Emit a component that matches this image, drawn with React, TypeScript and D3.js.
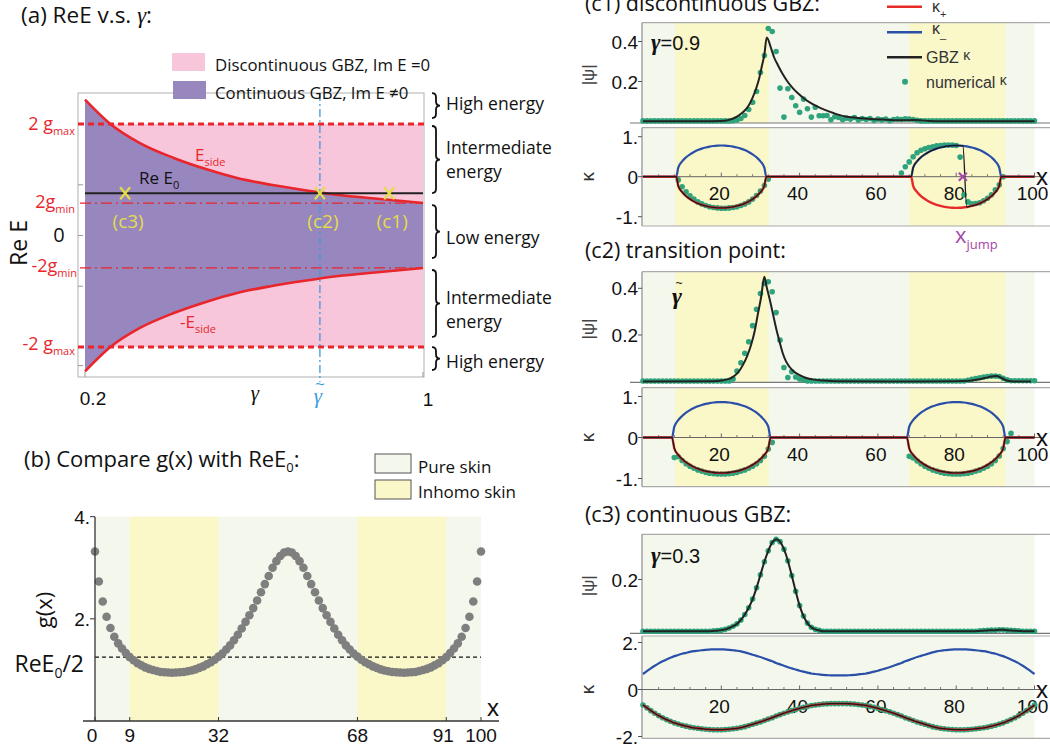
import React from "react";
import * as d3 from "d3";

const SANS = "'Open Sans', 'Noto Sans', sans-serif";
const ARIAL = "'Liberation Sans', Arial, sans-serif";
const SERIF = "'Liberation Serif', 'DejaVu Serif', serif";

// ---------------- (a) data ----------------
const gammaA = [0.2, 0.26, 0.33, 0.41, 0.49, 0.56, 0.64, 0.72, 0.8, 0.88, 0.95, 1.0];
const eSideA = [8.04, 6.6, 5.47, 4.59, 3.9, 3.4, 3.0, 2.68, 2.4, 2.2, 2.04, 1.92];
const twoGMax = 6.6;
const twoGMin = 1.92;
const reE0 = 2.5;
const gammaTilde = 0.756;
const markerGammas = [0.295, 0.756, 0.92];
const markerLabels = ["(c3)", "(c2)", "(c1)"];
const braceBands = [[8.43, 6.95], [6.48, 2.51], [1.8, -1.33], [-2.04, -6.0], [-6.6, -7.96]];
const braceLabels = [["High energy"], ["Intermediate", "energy"], ["Low energy"], ["Intermediate", "energy"], ["High energy"]];
const braceLabelE = [7.81, 4.47, -0.12, -4.38, -7.49];

// ---------------- (b) data ----------------
const xB = d3.range(0, 101);
const gB = [3.32, 2.73, 2.34, 2.04, 1.82, 1.65, 1.52, 1.42, 1.33, 1.25, 1.19, 1.13, 1.09, 1.05, 1.02, 1.0, 0.98, 0.96, 0.955, 0.95,
  0.945, 0.95, 0.955, 0.96, 0.975, 0.99, 1.01, 1.04, 1.07, 1.11, 1.15, 1.2, 1.26, 1.32, 1.4, 1.48, 1.58, 1.69, 1.81, 1.94,
  2.07, 2.21, 2.36, 2.52, 2.68, 2.84, 3.0, 3.13, 3.23, 3.3, 3.32, 3.3, 3.23, 3.13, 3.0, 2.84, 2.68, 2.52, 2.36, 2.21,
  2.07, 1.94, 1.81, 1.69, 1.58, 1.48, 1.4, 1.32, 1.26, 1.2, 1.15, 1.11, 1.07, 1.04, 1.01, 0.99, 0.975, 0.96, 0.955, 0.95,
  0.945, 0.95, 0.955, 0.96, 0.98, 1.0, 1.02, 1.05, 1.09, 1.13, 1.19, 1.25, 1.33, 1.42, 1.52, 1.65, 1.82, 2.04, 2.34, 2.73, 3.32];
const xTicksB = [0, 9, 32, 68, 91, 100];
const inhomoB = [[9, 32], [68, 91]];

// ---------------- (c) data ----------------
const xC = d3.range(0, 101);
const inhomoC = [[8.25, 32.1], [68, 92.5]];
const xTicksC = [20, 40, 60, 80, 100];

// c1
const c1PsiGbzX = [0, 15, 19.9, 22, 23.3, 24.6, 25.8, 27, 27.97, 28.9, 29.7, 30.4, 31.0, 31.6, 32.7, 33.5, 34.4, 35.6, 36.9, 38.2, 39.5, 41.2, 42.9, 44.6, 46.3, 48.8, 51.4, 54.8, 58.2, 62, 66.7, 69, 70.7, 73, 75.2, 100];
const c1PsiGbz = [0.001, 0.001, 0.002, 0.008, 0.0175, 0.032, 0.051, 0.08, 0.118, 0.165, 0.218, 0.28, 0.334, 0.42, 0.367, 0.32, 0.284, 0.24, 0.2, 0.168, 0.142, 0.114, 0.092, 0.074, 0.059, 0.041, 0.026, 0.018, 0.0125, 0.009, 0.006, 0.007, 0.006, 0.003, 0.001, 0.001];
const c1PsiNum = [0.003, 0.003, 0.003, 0.003, 0.003, 0.003, 0.003, 0.003, 0.003, 0.003, 0.003, 0.003, 0.003, 0.003, 0.003, 0.003, 0.003, 0.003, 0.003, 0.003, 0.003, 0.003, 0.003,
  0.004, 0.008, 0.015, 0.03, 0.06, 0.096, 0.15, 0.245, 0.33, 0.465, 0.45, 0.35, 0.167, 0.022, 0.164, 0.12, 0.079, 0.046, 0.112, 0.064, 0.022, 0.071, 0.029, 0.029, 0.03, 0.009, 0.024, 0.02, 0.009, 0.017, 0.012, 0.02, 0.008, 0.015, 0.01, 0.015, 0.005, 0.012, 0.008, 0.012, 0.004, 0.01, 0.012, 0.01, 0.013, 0.012, 0.01, 0.006,
  0.003, 0.003, 0.003, 0.003, 0.003, 0.003, 0.003, 0.003, 0.003, 0.003, 0.003, 0.003, 0.003, 0.003, 0.003, 0.003, 0.003, 0.003, 0.003, 0.003, 0.003, 0.003, 0.003, 0.003, 0.003, 0.003, 0.003, 0.003, 0.003, 0.003];
const c1KX = [0, 8.5, 9, 10, 11, 12, 13, 14, 15, 16, 17, 18, 19, 20, 21, 22, 23, 24, 25, 26, 27, 28, 29, 30, 31, 31.5,
  68.5, 69, 70, 71, 72, 73, 74, 75, 76, 77, 78, 79, 80, 81, 81.7, 82.7, 83, 84, 85, 86, 87, 88, 89, 90, 91, 91.5, 100];
const c1KMinus = [0, 0, 0.228, 0.385, 0.486, 0.56, 0.619, 0.665, 0.702, 0.731, 0.753, 0.768, 0.777, 0.78, 0.777, 0.768, 0.753, 0.731, 0.702, 0.665, 0.619, 0.56, 0.486, 0.385, 0.228, 0,
  0, 0.228, 0.385, 0.486, 0.56, 0.619, 0.665, 0.702, 0.731, 0.753, 0.768, 0.777, 0.78, 0.777, 0.771, 0.758, 0.753, 0.731, 0.702, 0.665, 0.619, 0.56, 0.486, 0.385, 0.228, 0, 0];
const c1XJump = 81.7;
const c1KNumX = [9, 10, 11, 12, 13, 14, 15, 16, 17, 18, 19, 20, 21, 22, 23, 24, 25, 26, 27, 28, 29, 30, 31, 32,
  66, 67, 68, 69, 70, 71, 72, 73, 74, 75, 76, 77, 78, 79, 80, 81, 82, 83, 84, 85, 86, 87, 88, 89, 90, 91, 92];
const c1KNum = [-0.08, -0.25, -0.38, -0.48, -0.56, -0.63, -0.68, -0.72, -0.75, -0.77, -0.78, -0.79, -0.79, -0.78, -0.77, -0.75, -0.72, -0.68, -0.63, -0.56, -0.47, -0.36, -0.22, -0.06,
  0.09, 0.25, 0.37, 0.5, 0.6, 0.66, 0.7, 0.73, 0.75, 0.77, 0.78, 0.79, 0.79, 0.79, 0.78, 0.49, -0.45, -0.63, -0.68, -0.67, -0.65, -0.6, -0.54, -0.45, -0.33, -0.2, 0.0];

// c2
const c2PsiGbzX = [0, 18, 20, 21.5, 23, 24.3, 25.5, 26.6, 27.6, 28.5, 29.3, 30.2, 31, 31.6, 32.3, 33.2, 34, 34.9, 35.7, 36.5, 37.4, 38.6, 39.9, 41.5, 43.3, 46, 49.3, 70, 80, 83.4, 85.5, 87.6, 89, 90.2, 91.5, 92.7, 94, 95.3, 99.1];
const c2PsiGbz = [0.001, 0.002, 0.005, 0.01, 0.021, 0.04, 0.071, 0.11, 0.157, 0.215, 0.286, 0.365, 0.45, 0.405, 0.357, 0.29, 0.229, 0.17, 0.122, 0.088, 0.064, 0.043, 0.029, 0.017, 0.01, 0.005, 0.002, 0.001, 0.002, 0.004, 0.009, 0.017, 0.022, 0.024, 0.017, 0.006, 0.002, 0.001, 0.001];
const c2PsiNum = [0.003, 0.003, 0.003, 0.003, 0.003, 0.003, 0.003, 0.003, 0.003, 0.003, 0.003, 0.003, 0.003, 0.003, 0.003, 0.003, 0.003, 0.003, 0.003, 0.003, 0.003, 0.003, 0.003,
  0.012, 0.046, 0.081, 0.122, 0.171, 0.24, 0.31, 0.378, 0.421, 0.428, 0.385, 0.296, 0.178, 0.061, 0.018, 0.043, 0.02, 0.012, 0.008,
  0.003, 0.003, 0.003, 0.003, 0.003, 0.003, 0.003, 0.003, 0.003, 0.003, 0.003, 0.003, 0.003, 0.003, 0.003, 0.003, 0.003, 0.003, 0.003, 0.003, 0.003, 0.003, 0.003, 0.003, 0.003, 0.003, 0.003, 0.003, 0.003, 0.003, 0.003, 0.003, 0.003, 0.003, 0.003, 0.003, 0.003, 0.003, 0.003, 0.003, 0.003,
  0.006, 0.01, 0.013, 0.017, 0.02, 0.022, 0.024, 0.024, 0.022, 0.015, 0.008,
  0.004, 0.004, 0.004, 0.004, 0.004, 0.004, 0.004];
const c2KX = [0, 7.4, 8, 9, 10, 11, 12, 13, 14, 15, 16, 17, 18, 19, 20, 21, 22, 23, 24, 25, 26, 27, 28, 29, 30, 31, 32, 32.6,
  67.4, 68, 69, 70, 71, 72, 73, 74, 75, 76, 77, 78, 79, 80, 81, 82, 83, 84, 85, 86, 87, 88, 89, 90, 91, 92, 92.6, 100];
const c2KMinus = [0, 0, 0.264, 0.422, 0.526, 0.605, 0.668, 0.719, 0.761, 0.794, 0.821, 0.84, 0.854, 0.862, 0.865, 0.862, 0.854, 0.84, 0.821, 0.794, 0.761, 0.719, 0.668, 0.605, 0.526, 0.422, 0.264, 0,
  0, 0.264, 0.422, 0.526, 0.605, 0.668, 0.719, 0.761, 0.794, 0.821, 0.84, 0.854, 0.862, 0.865, 0.862, 0.854, 0.84, 0.821, 0.794, 0.761, 0.719, 0.668, 0.605, 0.526, 0.422, 0.264, 0, 0];
const c2KNumX = [8, 9, 10, 11, 12, 13, 14, 15, 16, 17, 18, 19, 20, 21, 22, 23, 24, 25, 26, 27, 28, 29, 30, 31, 32, 33,
  68, 69, 70, 71, 72, 73, 74, 75, 76, 77, 78, 79, 80, 81, 82, 83, 84, 85, 86, 87, 88, 89, 90, 91, 92, 93, 94];
const c2KNum = [-0.49, -0.47, -0.56, -0.64, -0.7, -0.75, -0.79, -0.82, -0.85, -0.87, -0.88, -0.89, -0.89, -0.89, -0.88, -0.87, -0.85, -0.82, -0.79, -0.75, -0.7, -0.64, -0.56, -0.46, -0.28, -0.12,
  -0.46, -0.5, -0.57, -0.64, -0.7, -0.75, -0.79, -0.82, -0.85, -0.87, -0.88, -0.89, -0.89, -0.89, -0.88, -0.87, -0.85, -0.82, -0.79, -0.75, -0.7, -0.64, -0.56, -0.45, -0.27, -0.1, 0.1];

// c3
const c3Psi = [0.002, 0.002, 0.002, 0.002, 0.002, 0.002, 0.002, 0.002, 0.002, 0.002, 0.002, 0.002, 0.002, 0.002, 0.002, 0.002, 0.002, 0.002,
  0.003, 0.004, 0.006, 0.009, 0.014, 0.021, 0.03, 0.045, 0.066, 0.092, 0.125, 0.168, 0.218, 0.268, 0.31, 0.342, 0.354, 0.345, 0.316, 0.272, 0.215, 0.155, 0.1, 0.06, 0.033, 0.017, 0.009, 0.005,
  0.002, 0.002, 0.002, 0.002, 0.002, 0.002, 0.002, 0.002, 0.002, 0.002, 0.002, 0.002, 0.002, 0.002, 0.002, 0.002, 0.002, 0.002, 0.002, 0.002, 0.002, 0.002, 0.002, 0.002, 0.002, 0.002, 0.002, 0.002, 0.002, 0.002, 0.002, 0.002, 0.002, 0.002, 0.002, 0.002, 0.002, 0.002, 0.002, 0.002,
  0.003, 0.004, 0.005, 0.006, 0.006, 0.007, 0.007, 0.006, 0.005, 0.004, 0.003,
  0.002, 0.002, 0.002, 0.002];
const c3Kappa = [-0.66, -0.78, -0.9, -1.01, -1.11, -1.2, -1.28, -1.35, -1.42, -1.47, -1.52, -1.56, -1.6, -1.63, -1.65, -1.67, -1.69, -1.7, -1.71, -1.71,
  -1.71, -1.7, -1.69, -1.67, -1.65, -1.62, -1.58, -1.53, -1.48, -1.43, -1.38, -1.32, -1.26, -1.2, -1.13, -1.07, -1.01, -0.95, -0.9, -0.85,
  -0.8, -0.76, -0.72, -0.68, -0.66, -0.64, -0.62, -0.61, -0.6, -0.6, -0.6, -0.6, -0.6, -0.61, -0.62, -0.64, -0.66, -0.68, -0.72, -0.76,
  -0.8, -0.85, -0.9, -0.95, -1.01, -1.07, -1.13, -1.2, -1.26, -1.32, -1.38, -1.43, -1.48, -1.53, -1.58, -1.62, -1.65, -1.67, -1.69, -1.7,
  -1.71, -1.71, -1.71, -1.7, -1.69, -1.67, -1.65, -1.63, -1.6, -1.56, -1.52, -1.47, -1.42, -1.35, -1.28, -1.2, -1.11, -1.01, -0.9, -0.78, -0.66];

// colors
const PINK = "#F7C6DA";
const PURPLE = "#9886BF";
const RED = "#E8262B";
const YEL = "#E4DC4A";
const BLUE_V = "#3D9CD8";
const GREEN_BG = "#F4F8EC";
const YELLOW_BG = "#FAF7C9";
const DOT = "#2FA37C";
const KRED = "#E62A2A";
const KBLUE = "#2A4FA8";

function bracePath(x: number, y1: number, y2: number, w: number) {
  const m = (y1 + y2) / 2;
  const r = Math.min(w, (y2 - y1) / 4);
  return `M${x},${y1} Q${x + w},${y1} ${x + w},${y1 + r} L${x + w},${m - r} Q${x + w},${m} ${x + 2 * w},${m} Q${x + w},${m} ${x + w},${m + r} L${x + w},${y2 - r} Q${x + w},${y2} ${x},${y2}`;
}

function PanelA() {
  const xA = d3.scaleLinear().domain([0.2, 1]).range([85, 423]);
  const yA = d3.scaleLinear().domain([-1, 1]).range([235.5 + 16.9, 235.5 - 16.9]);
  const area = d3.area<number>().x((_, i) => xA(gammaA[i])).y0((d) => yA(-d)).y1((d) => yA(d)).curve(d3.curveMonotoneX);
  const up = d3.line<number>().x((_, i) => xA(gammaA[i])).y((d) => yA(d)).curve(d3.curveMonotoneX);
  const dn = d3.line<number>().x((_, i) => xA(gammaA[i])).y((d) => yA(-d)).curve(d3.curveMonotoneX);
  const x0 = xA(0.2), x1 = xA(1);
  const red = RED;
  return (
    <g>
      <text x={21} y={22.5} fontFamily={SANS} fontSize={22.5} fill="#111">(a) ReE v.s. <tspan fontFamily={SERIF} fontStyle="italic">γ</tspan>:</text>
      <rect x={78} y={93} width={346} height={284} fill="none" stroke="#b0b0b0" strokeWidth={1} />
      <rect x={172} y={53} width={33} height={18} fill={PINK} />
      <rect x={173} y={81} width={33} height={18} fill={PURPLE} />
      <rect x={x0} y={yA(twoGMax)} width={x1 - x0} height={yA(-twoGMax) - yA(twoGMax)} fill={PINK} />
      <path d={area(eSideA) || ""} fill={PURPLE} />
      <path d={up(eSideA) || ""} fill="none" stroke={red} strokeWidth={2.6} />
      <path d={dn(eSideA) || ""} fill="none" stroke={red} strokeWidth={2.6} />
      {[twoGMax, -twoGMax].map((v, i) => (
        <line key={"gm" + i} x1={78} x2={425} y1={yA(v)} y2={yA(v)} stroke={red} strokeWidth={3} strokeDasharray="6,4" />
      ))}
      {[twoGMin, -twoGMin].map((v, i) => (
        <line key={"gn" + i} x1={80} x2={423} y1={yA(v)} y2={yA(v)} stroke={red} strokeWidth={1.2} strokeDasharray="11,4,2,4" />
      ))}
      <line x1={x0} x2={x1} y1={yA(reE0)} y2={yA(reE0)} stroke="#222" strokeWidth={2.2} />
      <line x1={xA(gammaTilde)} x2={xA(gammaTilde)} y1={93} y2={382} stroke={BLUE_V} strokeWidth={1.3} strokeDasharray="8,3,2,3" />
      {[3, 0, -3, -7.7].map((v, i) => (
        <line key={"lt" + i} x1={78} x2={83} y1={yA(v)} y2={yA(v)} stroke="#999" />
      ))}
      {[0.2, 1].map((v, i) => (
        <line key={"bt" + i} x1={xA(v)} x2={xA(v)} y1={377} y2={372} stroke="#999" />
      ))}
      {markerGammas.map((g, i) => {
        const cx = xA(g), cy = yA(reE0);
        return (
          <g key={"mk" + i}>
            <line x1={cx - 5} x2={cx + 5} y1={cy - 6} y2={cy + 6} stroke={YEL} strokeWidth={2.2} />
            <line x1={cx - 5} x2={cx + 5} y1={cy + 6} y2={cy - 6} stroke={YEL} strokeWidth={2.2} />
            <text x={cx + 3} y={228} textAnchor="middle" fontFamily={SANS} fontSize={19} fill={YEL}>{markerLabels[i]}</text>
          </g>
        );
      })}
      <text x={195} y={161} fontFamily={SANS} fontSize={17} fill={red}>E<tspan fontSize={11} dy={5}>side</tspan></text>
      <text x={139} y={184} fontFamily={SANS} fontSize={17} fill="#111">Re E<tspan fontSize={11} dy={5}>0</tspan></text>
      <text x={180} y={328} fontFamily={SANS} fontSize={17} fill={red}>-E<tspan fontSize={11} dy={5}>side</tspan></text>
      <text x={75} y={130} textAnchor="end" fontFamily={SANS} fontSize={18} fill={red}>2 g<tspan fontSize={11} dy={5}>max</tspan></text>
      <text x={75} y={208} textAnchor="end" fontFamily={SANS} fontSize={18} fill={red}>2g<tspan fontSize={11} dy={5}>min</tspan></text>
      <text x={59} y={242} textAnchor="middle" fontFamily={SANS} fontSize={20} fill="#111">0</text>
      <text x={77} y={272} textAnchor="end" fontFamily={SANS} fontSize={18} fill={red}>-2g<tspan fontSize={11} dy={5}>min</tspan></text>
      <text x={75} y={350} textAnchor="end" fontFamily={SANS} fontSize={18} fill={red}>-2 g<tspan fontSize={11} dy={5}>max</tspan></text>
      <text transform="translate(27,243) rotate(-90)" textAnchor="middle" fontFamily={SANS} fontSize={23} fill="#111">Re E</text>
      <text x={93} y={405} textAnchor="middle" fontFamily={ARIAL} fontSize={19} fill="#111">0.2</text>
      <text x={255} y={400} textAnchor="middle" fontFamily={SERIF} fontStyle="italic" fontSize={21} fill="#111">γ</text>
      <text x={318} y={403} textAnchor="middle" fontFamily={SERIF} fontStyle="italic" fontSize={21} fill={BLUE_V}>γ</text>
      <text x={320} y={390} textAnchor="middle" fontFamily={ARIAL} fontSize={16} fill={BLUE_V}>~</text>
      <text x={428} y={406} textAnchor="middle" fontFamily={ARIAL} fontSize={19} fill="#111">1</text>
      <text x={215} y={71} fontFamily={SANS} fontSize={16.8} fill="#111">Discontinuous GBZ, Im E =0</text>
      <text x={215} y={99} fontFamily={SANS} fontSize={16.8} fill="#111">Continuous GBZ, Im E ≠0</text>
      {braceBands.map((b, i) => {
        const y1 = yA(b[0]), y2 = yA(b[1]);
        const yc = yA(braceLabelE[i]);
        const lines = braceLabels[i];
        return (
          <g key={"br" + i}>
            <path d={bracePath(432, y1, y2, 4)} fill="none" stroke="#111" strokeWidth={1.8} />
            {lines.map((t, j) => (
              <text key={j} x={446} y={yc + (j - (lines.length - 1) / 2) * 24 + 6} fontFamily={SANS} fontSize={17.5} fill="#111">{t}</text>
            ))}
          </g>
        );
      })}
    </g>
  );
}

function PanelB() {
  const x = d3.scaleLinear().domain([0, 100]).range([95, 481]);
  const y = d3.scaleLinear().domain([0, 4]).range([721, 516.7]);
  return (
    <g>
      <text x={24} y={467} fontFamily={SANS} fontSize={22} fill="#111">(b) Compare g(x) with ReE<tspan fontSize={13} dy={5}>0</tspan><tspan dy={-5}>:</tspan></text>
      <rect x={375} y={454} width={36} height={19} fill={GREEN_BG} stroke="#555" strokeWidth={1} />
      <rect x={375} y={480} width={36} height={19} fill={YELLOW_BG} stroke="#555" strokeWidth={1} />
      <text x={418} y={472.5} fontFamily={SANS} fontSize={17} fill="#111">Pure skin</text>
      <text x={418} y={498} fontFamily={SANS} fontSize={17} fill="#111">Inhomo skin</text>
      <rect x={x(0)} y={y(4)} width={x(100) - x(0)} height={y(0) - y(4)} fill={GREEN_BG} />
      {inhomoB.map((r, i) => (
        <rect key={i} x={x(r[0])} y={y(4)} width={x(r[1]) - x(r[0])} height={y(0) - y(4)} fill={YELLOW_BG} />
      ))}
      <line x1={x(0)} x2={x(100)} y1={y(reE0 / 2)} y2={y(reE0 / 2)} stroke="#111" strokeWidth={1.2} strokeDasharray="4,3" />
      {xB.map((xx, i) => (
        <circle key={i} cx={x(xx)} cy={y(gB[i])} r={4.3} fill="#7f7f7f" />
      ))}
      <line x1={95} x2={95} y1={y(4)} y2={y(0)} stroke="#333" strokeWidth={1.3} />
      <line x1={83} x2={499} y1={y(0)} y2={y(0)} stroke="#333" strokeWidth={1.3} />
      {[4, 2].map((v) => (
        <g key={"yt" + v}>
          <line x1={90} x2={95} y1={y(v)} y2={y(v)} stroke="#333" />
          <text x={90} y={y(v) + 7} textAnchor="end" fontFamily={ARIAL} fontSize={19} fill="#111">{v + "."}</text>
        </g>
      ))}
      <text x={84} y={672} textAnchor="end" fontFamily={SANS} fontSize={23} fill="#111">ReE<tspan fontSize={14} dy={6}>0</tspan><tspan dy={-6}>/2</tspan></text>
      <text transform="translate(52,610) rotate(-90)" textAnchor="middle" fontFamily={SANS} fontSize={22} fill="#111">g(x)</text>
      {xTicksB.map((t) => (
        <g key={"xt" + t}>
          <line x1={x(t)} x2={x(t)} y1={y(0)} y2={y(0) - 4} stroke="#333" />
          <text x={x(t) - (t === 0 ? 3 : t === 91 ? 3 : 0)} y={742} textAnchor="middle" fontFamily={ARIAL} fontSize={19} fill="#111">{t}</text>
        </g>
      ))}
      <text x={487} y={716} fontFamily={ARIAL} fontSize={24} fill="#111">x</text>
    </g>
  );
}

type CCfg = {
  title: string; titleY: number;
  psiTop: number; psiBot: number; psiZero: number; psiScale: number; psiTicks: number[];
  kTop: number; kBot: number; kZero: number; kScale: number; kTicks: number[]; kTickLabels: string[];
  yellow: boolean;
  gamma: string; gammaY: number;
  psiCurveX: number[]; psiCurve: number[]; psiNum: number[];
  kX: number[]; kMinus: number[]; mode: string; kNumX: number[]; kNum: number[];
};

function PanelC({ cfg }: { cfg: CCfg }) {
  const x = d3.scaleLinear().domain([0, 100]).range([643, 1034.5]);
  const yP = d3.scaleLinear().domain([0, 1]).range([cfg.psiZero, cfg.psiZero - cfg.psiScale]);
  const yK = d3.scaleLinear().domain([0, 1]).range([cfg.kZero, cfg.kZero - cfg.kScale]);
  const L = 642;
  const psiLine = d3.line<number>().x((_, i) => x(cfg.psiCurveX[i])).y((d) => yP(d)).curve(d3.curveMonotoneX);
  const kLine = d3.line<number>().x((_, i) => x(cfg.kX[i])).y((d) => yK(d)).curve(d3.curveMonotoneX);
  const blue = cfg.kMinus;
  const red = cfg.kMinus.map((v) => -v);
  let black: number[] = red;
  if (cfg.mode === "jump") {
    black = cfg.kMinus.map((v, i) => (cfg.kX[i] >= 68 && cfg.kX[i] <= c1XJump ? v : -v));
  }
  const bgs = (top: number, bot: number, key: string) => (
    <g key={key}>
      <rect x={x(0)} y={top} width={x(100) - x(0)} height={bot - top} fill={GREEN_BG} />
      {cfg.yellow && inhomoC.map((r, i) => (
        <rect key={i} x={x(r[0])} y={top} width={x(r[1]) - x(r[0])} height={bot - top} fill={YELLOW_BG} />
      ))}
    </g>
  );
  const minor = d3.range(4, 100, 4);
  return (
    <g>
      <text x={585} y={cfg.titleY} fontFamily={SANS} fontSize={21.5} fill="#111">{cfg.title}</text>
      {bgs(cfg.psiTop, cfg.psiBot, "bp")}
      {bgs(cfg.kTop, cfg.kBot, "bk")}
      <line x1={L} x2={1050} y1={cfg.psiTop} y2={cfg.psiTop} stroke="#aaa" strokeWidth={1.2} />
      <line x1={630} x2={1050} y1={cfg.psiBot} y2={cfg.psiBot} stroke="#777" strokeWidth={1.2} />
      <line x1={L} x2={L} y1={cfg.psiTop} y2={cfg.psiBot} stroke="#888" strokeWidth={1.2} />
      {cfg.psiTicks.map((t) => (
        <g key={"pt" + t}>
          <line x1={L - 4} x2={L} y1={yP(t)} y2={yP(t)} stroke="#555" />
          <text x={638} y={yP(t) + 7} textAnchor="end" fontFamily={ARIAL} fontSize={19} fill="#111">{t}</text>
        </g>
      ))}
      <text transform={`translate(594,${(cfg.psiTop + cfg.psiBot) / 2 + 2}) rotate(-90)`} textAnchor="middle" fontFamily={ARIAL} fontSize={17} fill="#444">|ψ|</text>
      {cfg.psiNum.map((v, i) => (
        <circle key={"pn" + i} cx={x(xC[i])} cy={yP(v)} r={2.8} fill={DOT} />
      ))}
      <path d={psiLine(cfg.psiCurve) || ""} fill="none" stroke="#222" strokeWidth={2} />
      {cfg.gamma === "tilde" ? (
        <g>
          <text x={677} y={cfg.gammaY} textAnchor="middle" fontFamily={SERIF} fontStyle="italic" fontSize={24} fontWeight="bold" fill="#111">γ</text>
          <text x={679} y={cfg.gammaY - 17} textAnchor="middle" fontFamily={ARIAL} fontSize={12} fill="#111">~</text>
        </g>
      ) : (
        <text x={651} y={cfg.gammaY} fontFamily={ARIAL} fontSize={20} fill="#111"><tspan fontFamily={SERIF} fontStyle="italic" fontWeight="bold" fontSize={23}>γ</tspan>={cfg.gamma}</text>
      )}
      <line x1={L} x2={1050} y1={cfg.kTop} y2={cfg.kTop} stroke="#aaa" strokeWidth={1.2} />
      <line x1={L} x2={1050} y1={cfg.kBot} y2={cfg.kBot} stroke="#aaa" strokeWidth={1.2} />
      <line x1={L} x2={L} y1={cfg.kTop} y2={cfg.kBot} stroke="#888" strokeWidth={1.2} />
      {cfg.kTicks.map((t, i) => (
        <g key={"kt" + i}>
          <line x1={L - 4} x2={L} y1={yK(t)} y2={yK(t)} stroke="#555" />
          <text x={638} y={yK(t) + 7} textAnchor="end" fontFamily={ARIAL} fontSize={19} fill="#111">{cfg.kTickLabels[i]}</text>
        </g>
      ))}
      <text transform={`translate(594,${cfg.kZero}) rotate(-90)`} textAnchor="middle" fontFamily={ARIAL} fontSize={19} fill="#333">κ</text>
      <line x1={L} x2={1040} y1={yK(0)} y2={yK(0)} stroke="#666" strokeWidth={1} />
      {xTicksC.map((t) => (
        <g key={"xt" + t}>
          <line x1={x(t)} x2={x(t)} y1={yK(0)} y2={yK(0) - 4} stroke="#666" />
          <text x={x(t) - 2} y={yK(0) + 23} textAnchor="middle" fontFamily={ARIAL} fontSize={19} fill="#111">{t}</text>
        </g>
      ))}
      {minor.filter((m) => m % 20 !== 0).map((m) => (
        <line key={"mn" + m} x1={x(m)} x2={x(m)} y1={yK(0)} y2={yK(0) - 2.5} stroke="#777" />
      ))}
      <text x={1036} y={yK(0) + 8} fontFamily={ARIAL} fontSize={24} fill="#111">x</text>
      {cfg.kNum.map((v, i) => (
        <circle key={"kn" + i} cx={x(cfg.kNumX[i])} cy={yK(v)} r={2.8} fill={DOT} />
      ))}
      <path d={kLine(blue) || ""} fill="none" stroke={KBLUE} strokeWidth={2.2} />
      <path d={kLine(red) || ""} fill="none" stroke={KRED} strokeWidth={2.4} />
      <path d={kLine(black) || ""} fill="none" stroke="#1a1a1a" strokeWidth={1.3} />
    </g>
  );
}

const c1Cfg: CCfg = {
  title: "(c1) discontinuous GBZ:", titleY: 10.5,
  psiTop: 22.7, psiBot: 123, psiZero: 121.5, psiScale: 200, psiTicks: [0.2, 0.4],
  kTop: 127.7, kBot: 226, kZero: 176.7, kScale: 40, kTicks: [1, 0, -1], kTickLabels: ["1.", "0", "-1."],
  yellow: true, gamma: "0.9", gammaY: 50,
  psiCurveX: c1PsiGbzX, psiCurve: c1PsiGbz, psiNum: c1PsiNum,
  kX: c1KX, kMinus: c1KMinus, mode: "jump", kNumX: c1KNumX, kNum: c1KNum,
};
const c2Cfg: CCfg = {
  title: "(c2) transition point:", titleY: 258,
  psiTop: 271.7, psiBot: 382.3, psiZero: 381.7, psiScale: 233.5, psiTicks: [0.2, 0.4],
  kTop: 387.7, kBot: 486.7, kZero: 437.5, kScale: 41, kTicks: [1, 0, -1], kTickLabels: ["1.", "0", "-1."],
  yellow: true, gamma: "tilde", gammaY: 304,
  psiCurveX: c2PsiGbzX, psiCurve: c2PsiGbz, psiNum: c2PsiNum,
  kX: c2KX, kMinus: c2KMinus, mode: "lower", kNumX: c2KNumX, kNum: c2KNum,
};
const c3Cfg: CCfg = {
  title: "(c3) continuous GBZ:", titleY: 522,
  psiTop: 534.3, psiBot: 633.3, psiZero: 631.7, psiScale: 261, psiTicks: [0.2],
  kTop: 636, kBot: 738.3, kZero: 689.5, kScale: 23.5, kTicks: [2, 0, -2], kTickLabels: ["2.", "0", "-2."],
  yellow: false, gamma: "0.3", gammaY: 563,
  psiCurveX: xC, psiCurve: c3Psi, psiNum: c3Psi,
  kX: xC, kMinus: c3Kappa.map((v) => -v), mode: "lower", kNumX: xC, kNum: c3Kappa,
};

function LegendC() {
  return (
    <g fontFamily={ARIAL} fill="#333">
      <line x1={887} x2={922} y1={6.7} y2={6.7} stroke={KRED} strokeWidth={2.6} />
      <text x={932} y={12} fontSize={16} fill="#333">κ<tspan fontSize={11} dy={6}>+</tspan></text>
      <line x1={887} x2={922} y1={32.3} y2={32.3} stroke={KBLUE} strokeWidth={2.6} />
      <text x={932} y={34} fontSize={16} fill="#333">κ<tspan fontSize={11} dy={4}>_</tspan></text>
      <line x1={887} x2={922} y1={57.3} y2={57.3} stroke="#222" strokeWidth={2.6} />
      <text x={926} y={63} fontSize={16} fill="#333">GBZ <tspan fontSize={14} dy={-3}>κ</tspan></text>
      <circle cx={905} cy={81.7} r={3} fill={DOT} />
      <text x={926} y={88} fontSize={16} fill="#333">numerical <tspan fontSize={14} dy={-3}>κ</tspan></text>
    </g>
  );
}

function JumpMark() {
  const x = d3.scaleLinear().domain([0, 100]).range([643, 1034.5]);
  const cx = x(c1XJump), cy = 176.7;
  const col = "#A548A8";
  return (
    <g>
      <line x1={cx - 4} x2={cx + 4} y1={cy - 4} y2={cy + 4} stroke={col} strokeWidth={2.2} />
      <line x1={cx - 4} x2={cx + 4} y1={cy + 4} y2={cy - 4} stroke={col} strokeWidth={2.2} />
      <text x={955} y={243} fontFamily={SANS} fontSize={22} fill={col}>x<tspan fontSize={13} dy={6}>jump</tspan></text>
    </g>
  );
}

export default function App() {
  return (
    <svg width={1050} height={756} style={{ position: "absolute", left: 0, top: 0, background: "#fff" }}>
      <rect x={0} y={0} width={1050} height={756} fill="#fff" />
      <PanelA />
      <PanelB />
      <PanelC cfg={c1Cfg} />
      <PanelC cfg={c2Cfg} />
      <PanelC cfg={c3Cfg} />
      <LegendC />
      <JumpMark />
    </svg>
  );
}
